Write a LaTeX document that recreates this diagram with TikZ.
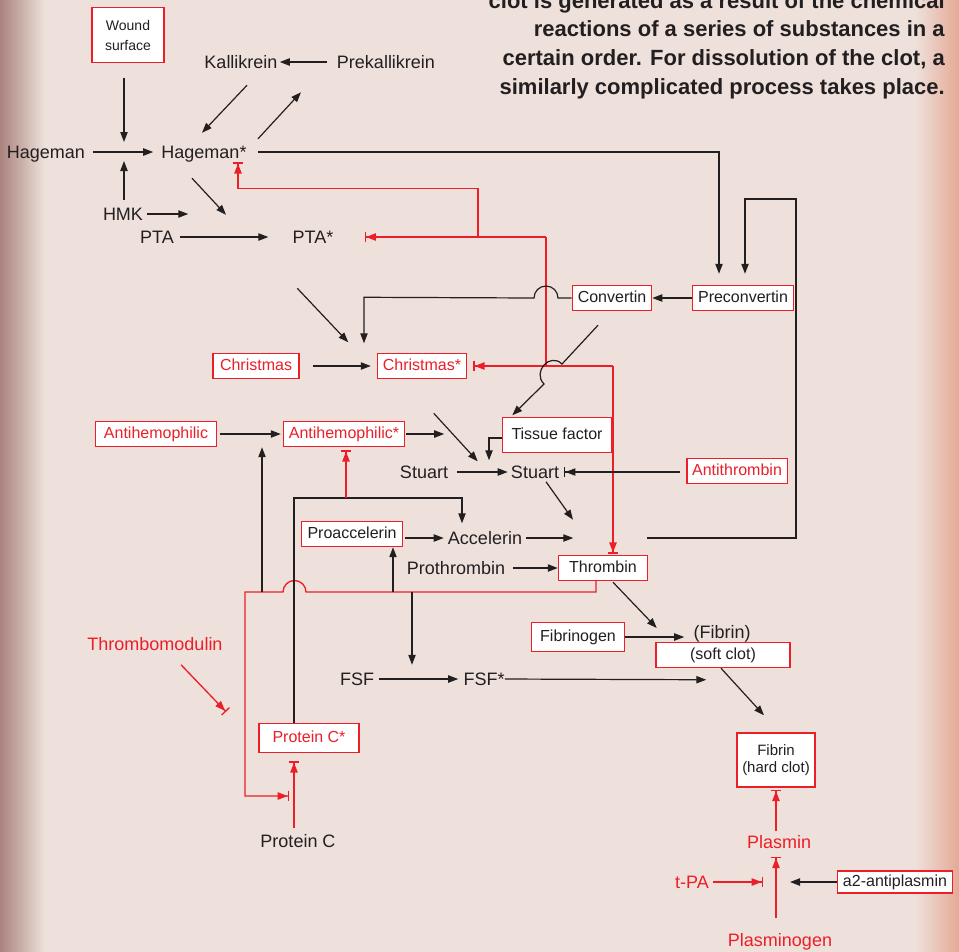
\documentclass[tikz,border=0pt]{standalone}
\usepackage{fontspec}
\setmainfont{Liberation Sans}
\usetikzlibrary{arrows.meta,calc}
\definecolor{ink}{RGB}{35,31,32}
\definecolor{hemred}{RGB}{236,30,40}
\definecolor{paper}{RGB}{238,225,219}
\definecolor{edgel}{RGB}{165,125,120}
\definecolor{edger}{RGB}{228,165,145}
\newcommand\fntlbl{\fontsize{13.5}{16}\selectfont}
\newcommand\fntbox{\fontsize{12}{14}\selectfont}
\newcommand\fntsmall{\fontsize{10.5}{15}\selectfont}
\newcommand\fnthard{\fontsize{11.25}{12.75}\selectfont}
\newcommand\fnthead{\fontsize{16.5}{21.5}\selectfont\bfseries}
\tikzset{
  box/.style   = {draw=hemred, fill=white, line width=1.1pt, text=ink,
                  font=\fntbox, inner xsep=4pt, inner ysep=0pt,
                  minimum height=18.75pt, text height=8.6pt, text depth=2.4pt},
  rbox/.style  = {box, text=hemred},
  mbox/.style  = {draw=hemred, fill=white, line width=1.1pt, text=ink,
                  inner sep=0pt, align=center},
  lbl/.style   = {font=\fntlbl, text=ink, inner sep=0pt,
                  text height=9.7pt, text depth=0pt},
  rlbl/.style  = {lbl, text=hemred},
  head/.style  = {font=\fnthead, text=ink, inner sep=0pt, align=right},
  arr/.style   = {-{Triangle[length=7.5pt,width=5.5pt]}, line width=0.9pt, ink},
  inh/.style   = {-{Triangle[length=7.5pt,width=5.5pt]Bar[width=8pt]},
                  line width=1pt, hemred},
  inhk/.style  = {inh, ink, line width=0.9pt},
  rline/.style = {line width=1pt, hemred}
}

\begin{document}
\begin{tikzpicture}[x=0.75pt, y=-0.75pt]
  \useasboundingbox (0,0) rectangle (959,951);
  % background
  \fill[paper] (-3,-3) rectangle (962,954);
  \shade[left color=edgel, right color=paper] (-3,-3) rectangle (45,954);
  \shade[left color=paper, right color=edger] (915,-3) rectangle (962,954);

  \node[head, anchor=south east] (caption) at (945,99)
    {clot is generated as a result of the chemical\\reactions of a series of substances in a\\certain order. For dissolution of the clot, a\\similarly complicated process takes place.};

  % substances
  \node[mbox, font=\fntsmall, minimum width=54pt, minimum height=41.25pt] (wound) at (128,35) {Wound\\surface};
  \node[lbl]  (kal)     at (241,62)  {Kallikrein};
  \node[lbl]  (prekal)  at (386,62)  {Prekallikrein};
  \node[lbl]  (hag)     at (46,152)  {Hageman};
  \node[lbl]  (hagst)   at (204,152) {Hageman*};
  \node[lbl]  (hmk)     at (123,214) {HMK};
  \node[lbl]  (pta)     at (157,237) {PTA};
  \node[lbl]  (ptast)   at (313,237) {PTA*};
  \node[box, minimum width=58.5pt]  (conv)    at (612,298) {Convertin};
  \node[box, minimum width=75.75pt] (preconv) at (743,298) {Preconvertin};
  \node[rbox, minimum width=64.5pt] (chr)     at (256,366) {Christmas};
  \node[rbox, minimum width=66.75pt] (chrst)  at (422,366) {Christmas*};
  \node[rbox, minimum width=90.75pt] (antih)  at (156,434) {Antihemophilic};
  \node[rbox, minimum width=90pt]   (antihst) at (344,434) {Antihemophilic*};
  \node[box, minimum width=81.75pt, minimum height=26.25pt] (tissue) at (557,435) {Tissue factor};
  \node[lbl]  (stu)     at (424,472) {Stuart};
  \node[lbl]  (stust)   at (535,472) {Stuart};
  \node[rbox, minimum width=73.5pt] (antithr) at (737,471) {Antithrombin};
  \node[box, minimum width=75.75pt] (proacc)  at (352,534) {Proaccelerin};
  \node[lbl]  (acc)     at (485,538) {Accelerin};
  \node[lbl]  (prothr)  at (456,568) {Prothrombin};
  \node[box, minimum width=66.75pt] (thr)     at (603,568) {Thrombin};
  \node[box, minimum width=69.75pt, minimum height=21.75pt] (fibgen) at (578,637) {Fibrinogen};
  \node[lbl]  (fibr)    at (722,632) {(Fibrin)};
  \node[box, minimum width=100.5pt] (soft)    at (723,655) {(soft clot)};
  \node[rlbl] (thrmod)  at (155,644) {Thrombomodulin};
  \node[lbl]  (fsf)     at (357,679) {FSF};
  \node[lbl]  (fsfst)   at (484,679) {FSF*};
  \node[rbox, minimum width=75pt, minimum height=21.75pt] (protcst) at (309,738) {Protein C*};
  \node[mbox, font=\fnthard, minimum width=58.5pt, minimum height=40.5pt] (hard) at (776,760) {Fibrin\\(hard clot)};
  \node[lbl]  (protc)   at (298,841) {Protein C};
  \node[rlbl] (plasmin) at (779,842) {Plasmin};
  \node[rlbl] (tpa)     at (692,882) {t-PA};
  \node[box, minimum width=85.5pt, minimum height=16.5pt] (antipl) at (895,882) {a2-antiplasmin};
  \node[rlbl] (plasmgn) at (780,940) {Plasminogen};

  % contact phase
  \coordinate (hj) at (124,152);
  \draw[arr] ($(prekal.west)+(-10,0)$) -- ($(kal.east)+(2,0)$);
  \draw[arr] ($(kal.south)+(6,16.5)$) -- ($(hagst.north)+(-2,-12.5)$);
  \draw[arr] ($(hagst.north)+(54,-6.5)$) -- ($(prekal.south)+(-85,23.5)$);
  \draw[arr] ($(wound.south -| hj)+(0,14.5)$) -- ($(hj)+(0,-10)$);
  \draw[arr] ($(hag.east)+(8,0)$) -- ($(hagst.west)+(-8,0)$);
  \draw[arr] ($(hmk.north -| hj)+(0,-7.5)$) -- ($(hj)+(0,9)$);
  \draw[arr] ($(hmk.east)+(4,0)$) -- ($(hmk.east)+(45,0)$);
  \draw[arr] ($(hagst.south)+(-12,19.5)$) -- ($(ptast.north)+(-87,-15.5)$);
  \draw[arr] ($(pta.east)+(6,0)$) -- ($(ptast.west)+(-24,0)$);
  \draw[arr] ($(hagst.east)+(11,0)$) -| ($(preconv.north)+(-24,-11)$);

  % thrombin feedback
  \coordinate (rT) at (613,366);
  \coordinate (rC) at (546,366);
  \coordinate (rP) at (546,237);
  \coordinate (rH) at (478,237);
  \draw[inh] (rT) -- ($(rT |- thr.north)+(0,-1)$);
  \draw[inh] (rT) -- ($(chrst.east)+(6,0)$);
  \draw[rline] (rC) -- (rP);
  \draw[inh] (rP) -- ($(ptast.east)+(31,0)$);
  \draw[inh] (rH) |- ($(hagst.south)+(34,29.5)$) -- ($(hagst.south)+(34,3.5)$);

  % convertin branch
  \draw[arr] (preconv) -- (conv);
  \draw[arr] (conv.west) -- ($(rC |- conv.west)+(12,0)$)
     arc[start angle=0, end angle=-180, radius=12]
     -- ($(chrst.north)+(-58,-55.5)$) -- ($(chrst.north)+(-58,-9.5)$);
  \draw[arr] ($(chrst.north west)+(-79.5,-64.5)$) -- ($(chrst.north west)+(-28.5,-10.5)$);
  \draw[arr] ($(chr.east)+(13,0)$) -- ($(chrst.west)+(-6,0)$);
  \draw[arr] ($(conv.south)+(-14,14)$) -- (562,364)
     .. controls (550,352) and (532,372) .. (544,384)
     -- ($(tissue.north west)+(10.5,-1.5)$);
  \draw[arr] ($(tissue.west)+(0,3)$) -| ($(stust.north)+(-46,-5)$);

  % stuart
  \draw[arr] ($(stust.north west)+(-77,-52)$) -- ($(stust.north west)+(-33,-4)$);
  \draw[arr] ($(stu.east)+(9,0)$) -- ($(stust.west)+(-3,0)$);
  \draw[inhk] ($(stust.east)+(121,0)$) -- ($(stust.east)+(5,0)$);
  \draw[arr] ($(antih.east)+(3,0)$) -- ($(antihst.west)+(-2,0)$);
  \draw[arr] ($(antihst.east)+(1,0)$) -- ($(antihst.east)+(39,0)$);
  \draw[arr] ($(stust.south)+(11,3)$) -- ($(stust.south)+(38,41)$);

  % accelerin and thrombin
  \draw[arr] ($(proacc.east)+(2,4)$) -- ($(acc.west)+(-4,0)$);
  \draw[arr] ($(acc.east)+(4,0)$) -- ($(acc.east)+(51,0)$);
  \coordinate (lp) at (647,538);
  \draw[arr] (lp) -| (796,199) -| ($(preconv.north)+(2,-11)$);
  \draw[arr] ($(prothr.east)+(8,0)$) -- (thr.west);

  % protein C loop
  \coordinate (rA) at (262,592);
  \coordinate (rB) at (393,592);
  \coordinate (rF) at (412,592);
  \coordinate (pj) at (294,796);
  \coordinate (kL) at (294,498);
  \draw[inh] ($(thr.south)+(-7,0)$) -- (596,592) -- (306,592)
     arc[start angle=0, end angle=-180, radius=11.5] -- (245,592)
     |- ($(pj)+(-5,0)$);
  \draw[arr] (rA) -- (rA |- antihst.south);
  \draw[arr] (rB) -- (rB |- proacc.south);
  \draw[arr] (rF) -- ($(rF |- fsf.north)+(0,-7.5)$);
  \draw[arr] ($(protcst.north)+(-15,0)$) -- (kL) -| ($(acc.north)+(-23,-8)$);
  \draw[inh] ($(kL)+(52,0)$) -- ($(antihst.south)+(2,3)$);
  \draw[inh] ($(protc.north)+(-4,-6)$) -- ($(protcst.south)+(-15,8)$);
  \draw[inh] ($(thrmod.south)+(26,14)$) -- ($(thrmod.south)+(71,61)$);

  % fibrin
  \draw[arr] ($(thr.south)+(10,1)$) -- ($(fibr.west)+(-36.5,-4)$);
  \draw[arr] (fibgen.east) -- ($(fibr.west)+(-9,5)$);
  \draw[arr] ($(fsf.east)+(5,0)$) -- ($(fsfst.west)+(-5,0)$);
  \draw[arr] (fsfst.east) -- ($(soft.south west)+(51,11.5)$);
  \draw[arr] ($(soft.south)+(-2,0)$) -- ($(hard.north)+(-12,-17)$);

  % fibrinolysis
  \draw[inh] ($(plasmin.north -| hard.south)+(0,-4)$) -- ($(hard.south)+(0,2)$);
  \draw[inh] ($(plasmgn.north -| hard.south)+(0,-15)$) -- ($(plasmin.south -| hard.south)+(0,8)$);
  \draw[inh] ($(tpa.east)+(4,0)$) -- ($(tpa.east -| hard.south)+(-13,0)$);
  \draw[arr] (antipl.west) -- ($(tpa.east -| hard.south)+(14,0)$);
\end{tikzpicture}
\end{document}
